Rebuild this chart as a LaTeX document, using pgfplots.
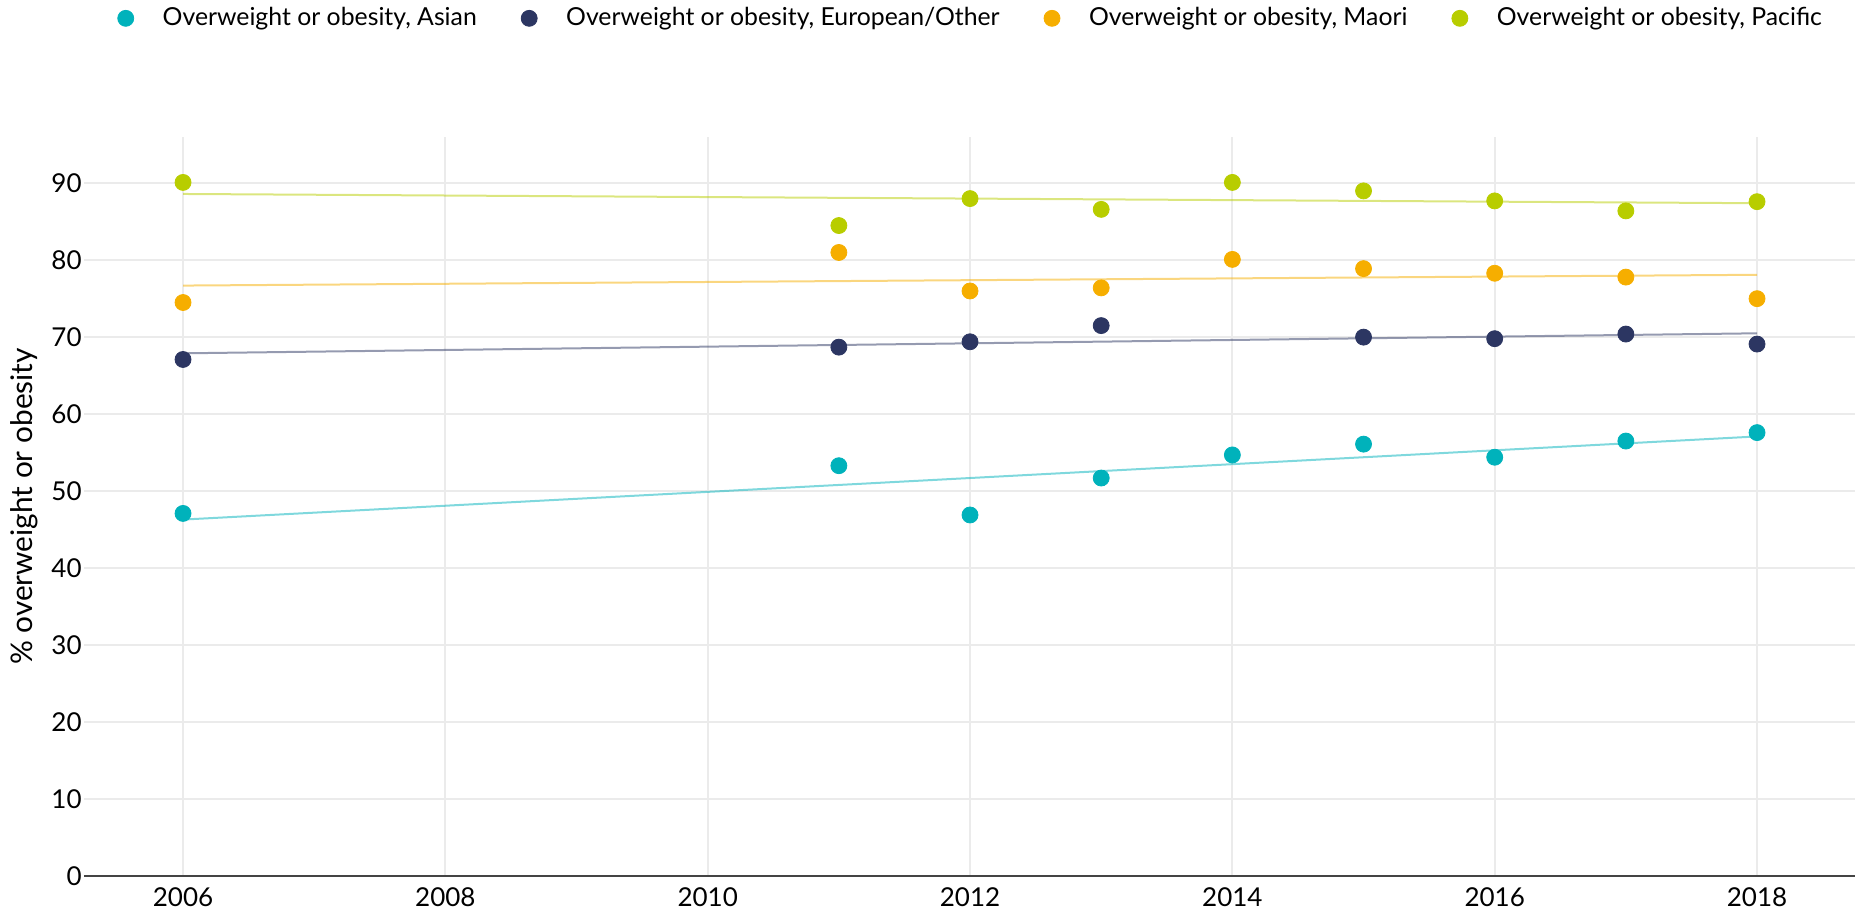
\documentclass[border=0pt]{standalone}
\usepackage{pgfplots}
\pgfplotsset{compat=1.18}
\usepackage{fontspec}
\setmainfont{Lato}

\definecolor{asian}{RGB}{0,178,187}
\definecolor{euro}{RGB}{44,54,98}
\definecolor{maori}{RGB}{246,174,0}
\definecolor{pacific}{RGB}{184,205,0}
\definecolor{gridgrey}{RGB}{235,235,235}
\definecolor{axisgrey}{RGB}{68,68,68}

\pgfplotsset{
	dot/.style={
		only marks,
		mark=*,
		mark size=4pt,
		mark options={draw=none},
		legend image code/.code={
			\fill (0pt,0pt) circle (4pt);
			\path[draw=none, fill=none] (-4pt,0pt) -- (18.5pt,0pt);
		},
	},
	trend/.style={
		no markers,
		line width=1pt,
		opacity=0.5,
		forget plot,
	},
}

\begin{document}
\begin{tikzpicture}
	\path[use as bounding box] (0,0) rectangle (928.5pt,460pt);
	\begin{axis}[
		at={(42pt,22pt)},
		anchor=south west,
		scale only axis,
		width=885.5pt,
		height=369.5pt,
		xmin=2005.245, xmax=2018.747,
		ymin=0, ymax=96,
		xtick={2006,2008,...,2018},
		ytick={0,10,...,90},
		major tick length=0pt,
		xmajorgrids, ymajorgrids,
		grid style={gridgrey, line width=1pt},
		axis x line*=bottom,
		axis y line*=left,
		x axis line style={axisgrey, line width=1pt, -},
		y axis line style={draw=none},
		/pgf/number format/1000 sep={},
		/pgf/number format/assume math mode=true,
		ticklabel style={font=\fontsize{13}{15}\selectfont, inner sep=0pt},
		xticklabel style={yshift=-5.5pt},
		yticklabel style={xshift=-1pt},
		ylabel={\% overweight or obesity},
		ylabel style={font=\fontsize{14.9}{17}\selectfont, at={(axis description cs:-0.0339,0.5)}, anchor=center},
		legend columns=4,
		legend style={
			draw=none, fill=none,
			at={(0.0186,1.1606)}, anchor=west,
			font=\fontsize{12.4}{15}\selectfont,
			inner sep=0pt,
			nodes={inner sep=0pt},
			/tikz/every even column/.append style={column sep=22pt},
		},
		clip=false,
	]
	% fitted trend lines
	\addplot[trend, asian] coordinates {(2006,46.3) (2018,57.1)};
	\addplot[trend, euro] coordinates {(2006,67.9) (2018,70.5)};
	\addplot[trend, maori] coordinates {(2006,76.7) (2018,78.1)};
	\addplot[trend, pacific] coordinates {(2006,88.6) (2018,87.4)};

	\addplot[dot, asian] table {
		year value
		2006 47.1
		2011 53.3
		2012 46.9
		2013 51.7
		2014 54.7
		2015 56.1
		2016 54.4
		2017 56.5
		2018 57.6
	};
	\addlegendentry{Overweight or obesity, Asian}

	\addplot[dot, euro] table {
		year value
		2006 67.1
		2011 68.7
		2012 69.4
		2013 71.5
		2015 70.0
		2016 69.8
		2017 70.4
		2018 69.1
	};
	\addlegendentry{Overweight or obesity, European/Other}

	\addplot[dot, maori] table {
		year value
		2006 74.5
		2011 81.0
		2012 76.0
		2013 76.4
		2014 80.1
		2015 78.9
		2016 78.3
		2017 77.8
		2018 75.0
	};
	\addlegendentry{Overweight or obesity, Maori}

	\addplot[dot, pacific] table {
		year value
		2006 90.1
		2011 84.5
		2012 88.0
		2013 86.6
		2014 90.1
		2015 89.0
		2016 87.7
		2017 86.4
		2018 87.6
	};
	\addlegendentry{Overweight or obesity, Pacific}
	\end{axis}
\end{tikzpicture}
\end{document}
